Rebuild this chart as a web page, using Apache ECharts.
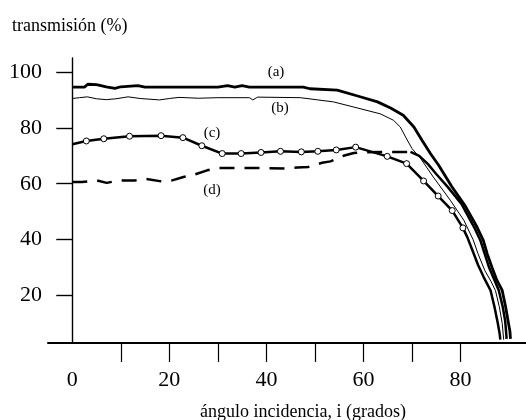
<!DOCTYPE html>
<html>
<head>
<meta charset="utf-8">
<script src="https://cdn.jsdelivr.net/npm/echarts@6/dist/echarts.min.js"></script>
<style>
  html, body { margin: 0; padding: 0; background: #fff; }
  #chart { width: 526px; height: 420px; }
</style>
</head>
<body>
<div id="chart"></div>
<script>
// curve (a): thick solid
const curveA = [[0, 94.6], [2.5, 94.6], [3.2, 95.6], [5, 95.5], [7, 94.7], [8.8, 94.1], [10, 94.7], [13.5, 95.1],
  [15, 94.6], [30, 94.6], [32, 95.1], [33.5, 94.6], [35, 95.1], [36.5, 94.6], [47.6, 94.6], [49, 94],
  [54.6, 93.5], [58.8, 91.4], [62.9, 89.3], [65.6, 87.1], [68.2, 84.5], [70.4, 80.3], [72.1, 75.5],
  [73.8, 70.8], [75.5, 66.6], [78.2, 59], [81, 52], [83.4, 44.5], [84.7, 39.7], [85.5, 35], [86.5, 30],
  [87.5, 25.5], [88.6, 21.8], [89.3, 16], [89.8, 11], [90.2, 7], [90.3, 4.5]];
// curve (b): thin solid
const curveB = [[0, 90.5], [1.5, 90.8], [3.1, 91.1], [5, 90.4], [7, 90.1], [9, 90.4], [11.5, 91.1], [14, 90.5],
  [18, 90], [20, 90.5], [22, 90.9], [26, 90.6], [30, 90.8], [36.5, 90.8], [37.2, 90], [38.2, 91],
  [47, 90.8], [53.8, 89.3], [57.9, 87.5], [63.5, 85], [66.2, 82.7], [67.6, 80.3], [68.7, 76.7],
  [70, 72.6], [71.8, 69], [74.4, 62.4], [77.9, 54.1], [80.7, 46.9], [82.6, 40], [83.6, 35],
  [85, 29], [86.3, 25], [87.2, 21.8], [88, 16], [88.6, 10], [88.9, 4.2]];
// curve (c): thick solid with open circles
const curveCStart = [[0, 74.1]];
const curveCMarks = [[2.9, 75.3], [6.5, 76.1], [11.8, 77.0], [18.3, 77.2], [22.8, 76.5], [26.7, 73.6],
  [30.9, 70.8], [34.8, 70.8], [38.9, 71.2], [42.9, 71.6], [47.2, 71.4], [50.6, 71.6], [54.4, 72.1],
  [58.4, 73.1], [64.9, 69.8], [68.9, 67.2], [72.4, 61], [75.4, 55.6], [78.3, 50.4], [80.5, 44.2]];
const curveCTail = [[81.4, 40.9], [82.5, 36], [83.6, 31], [84.8, 26.5], [86.2, 21.8], [87, 16],
  [87.7, 10], [88.1, 6], [88.2, 4.2]];
// curve (d): dashed, then solid on the fall-off
const curveDDash = [[0, 60.6], [2, 60.6], [5.1, 61.2], [7.1, 60.3], [8.5, 60.8], [10.5, 61.2], [13, 61.2],
  [15, 61.8], [18.5, 60.8], [20.6, 61.2], [22.9, 62.4], [24.7, 63], [27.8, 64.8], [29.8, 65.6],
  [33.6, 65.6], [40, 65.6], [44, 65.4], [46.4, 65.8], [48.6, 66], [51.5, 67.5], [53.2, 68], [55.9, 70],
  [58, 71], [60, 71.2], [63.5, 71.4], [66.2, 71.4], [69.7, 71.4]];
const curveDSolid = [[69.7, 71.4], [71.5, 70], [73.3, 67], [75, 63.5], [77.4, 58.8], [80.2, 52.8],
  [82.8, 44.5], [84.1, 39.7], [85.9, 30], [87.9, 21.8], [88.7, 16], [89.2, 11], [89.4, 7], [89.5, 4.5]];

const xTicks = [10, 20, 30, 40, 50, 60, 70, 80];
const xLabels = [0, 20, 40, 60, 80];
const yTicks = [20, 40, 60, 80, 100];

const serif = 'Liberation Serif';
const chart = echarts.init(document.getElementById('chart'));

chart.setOption({
  animation: false,
  grid: { left: 48, right: 0, top: 58, bottom: 77, outerBoundsMode: 'none' },
  xAxis: {
    type: 'value',
    min: -5,
    max: 93.5,
    splitLine: { show: false },
    axisLine: { lineStyle: { color: '#000', width: 2 } },
    axisTick: { customValues: xTicks, length: 19, lineStyle: { color: '#000', width: 1.2 } },
    axisLabel: { customValues: xLabels, margin: 26, color: '#000', fontFamily: serif, fontSize: 22 }
  },
  yAxis: {
    type: 'value',
    min: 3,
    max: 105,
    splitLine: { show: false },
    axisLine: { onZero: true, lineStyle: { color: '#000', width: 1.4 } },
    axisTick: { customValues: yTicks, length: 16, lineStyle: { color: '#000', width: 1.4 } },
    // labels sit relative to the grid edge, not the shifted axis line
    axisLabel: { customValues: yTicks, margin: 6, color: '#000', fontFamily: serif, fontSize: 22 }
  },
  series: [
    {
      type: 'line', data: curveA, showSymbol: false,
      lineStyle: { color: '#000', width: 2.8 }
    },
    {
      type: 'line', data: curveB, showSymbol: false,
      lineStyle: { color: '#000', width: 1 }
    },
    {
      type: 'line', data: curveCStart.concat(curveCMarks, curveCTail), showSymbol: false,
      lineStyle: { color: '#000', width: 2.5 }
    },
    {
      type: 'scatter', data: curveCMarks, symbol: 'circle', symbolSize: 6,
      itemStyle: { color: '#fff', borderColor: '#000', borderWidth: 1, opacity: 1 }, z: 5
    },
    {
      type: 'line', data: curveDDash, showSymbol: false,
      lineStyle: { color: '#000', width: 2.5, type: [15, 10] }
    },
    {
      type: 'line', data: curveDSolid, showSymbol: false,
      lineStyle: { color: '#000', width: 2.5 }
    }
  ],
  graphic: [
    { type: 'text', left: 12, top: 17, style: { text: 'transmisión (%)', font: '18px "Liberation Serif"', fill: '#000' } },
    { type: 'text', x: 303, y: 412, style: { text: 'ángulo incidencia, i (grados)', font: '18px "Liberation Serif"', fill: '#000', align: 'center', verticalAlign: 'middle' } },
    { type: 'text', x: 276, y: 72, style: { text: '(a)', font: '15px "Liberation Serif"', fill: '#000', align: 'center', verticalAlign: 'middle' } },
    { type: 'text', x: 280, y: 108, style: { text: '(b)', font: '15px "Liberation Serif"', fill: '#000', align: 'center', verticalAlign: 'middle' } },
    { type: 'text', x: 212, y: 133, style: { text: '(c)', font: '15px "Liberation Serif"', fill: '#000', align: 'center', verticalAlign: 'middle' } },
    { type: 'text', x: 212, y: 190, style: { text: '(d)', font: '15px "Liberation Serif"', fill: '#000', align: 'center', verticalAlign: 'middle' } }
  ]
});
</script>
</body>
</html>
